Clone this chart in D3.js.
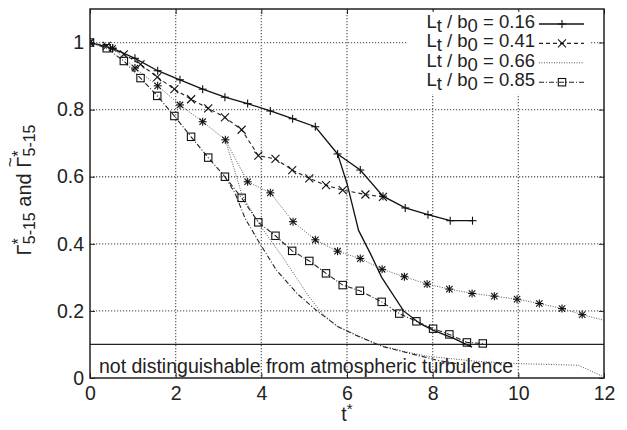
<!DOCTYPE html>
<html>
<head>
<meta charset="utf-8">
<script src="https://cdn.jsdelivr.net/npm/d3@7/dist/d3.min.js"></script>
<style>
  body { margin: 0; background: #fff; }
  text { font-family: "Liberation Sans", Arial, sans-serif; fill: #222; }
</style>
</head>
<body>
<div id="chart"></div>
<script>
'use strict';

// L_t / b_0 = 0.16 (plus, solid)
const tA = [0, 0.53, 1.05, 1.58, 2.1, 2.63, 3.15, 3.68, 4.21, 4.73, 5.26, 5.78, 6.31, 6.84, 7.36, 7.89, 8.41, 8.93];
const yA = [1.0, 0.983, 0.953, 0.916, 0.889, 0.861, 0.837, 0.818, 0.796, 0.773, 0.749, 0.668, 0.62, 0.542, 0.507, 0.487, 0.469, 0.469];
// L_t / b_0 = 0.41 (cross, dashed)
const tB = [0, 0.39, 0.79, 1.18, 1.57, 1.97, 2.36, 2.76, 3.15, 3.54, 3.93, 4.33, 4.72, 5.12, 5.51, 5.9, 6.43, 6.84];
const yB = [1.0, 0.99, 0.965, 0.935, 0.897, 0.861, 0.831, 0.804, 0.777, 0.74, 0.663, 0.653, 0.62, 0.595, 0.575, 0.56, 0.547, 0.54];
// L_t / b_0 = 0.66 (star, dotted)
const tC = [0, 0.53, 1.05, 1.58, 2.1, 2.63, 3.16, 3.68, 4.21, 4.74, 5.26, 5.78, 6.31, 6.82, 7.34, 7.87, 8.39, 8.92, 9.44, 9.97, 10.49, 11.02, 11.49, 12];
const yC = [1.0, 0.983, 0.924, 0.871, 0.814, 0.764, 0.71, 0.585, 0.552, 0.466, 0.412, 0.378, 0.356, 0.324, 0.302, 0.28, 0.265, 0.252, 0.244, 0.235, 0.222, 0.207, 0.189, 0.172];
// L_t / b_0 = 0.85 (square, dash-dot)
const tD = [0, 0.39, 0.79, 1.18, 1.57, 1.97, 2.36, 2.76, 3.15, 3.54, 3.93, 4.33, 4.72, 5.12, 5.51, 5.9, 6.3, 6.81, 7.22, 7.62, 8.01, 8.39, 8.8, 9.17];
const yD = [1.0, 0.983, 0.945, 0.894, 0.841, 0.781, 0.719, 0.657, 0.6, 0.537, 0.464, 0.424, 0.379, 0.349, 0.312, 0.277, 0.26, 0.227, 0.192, 0.169, 0.147, 0.13, 0.106, 0.103];

// tilde curves (no markers), drawn from where they leave the marked ones
const tAtil = [5.78, 6.0, 6.27, 6.55, 6.81, 7.32, 7.71, 8.02, 8.49, 8.92];
const yAtil = [0.668, 0.58, 0.44, 0.37, 0.3, 0.2, 0.162, 0.142, 0.118, 0.092];
const tCtil = [3.16, 3.55, 3.97, 4.5, 5.1, 5.4, 5.76, 6.2, 6.7, 7.3, 7.87, 8.4, 9.0, 9.97, 11.4, 12];
const yCtil = [0.71, 0.545, 0.455, 0.36, 0.245, 0.195, 0.155, 0.13, 0.1, 0.08, 0.065, 0.058, 0.05, 0.043, 0.038, 0.003];
const tDtil = [3.15, 3.39, 3.62, 3.97, 4.36, 4.85, 5.3, 5.8, 6.3, 6.85, 7.48, 8.1, 8.7];
const yDtil = [0.6, 0.55, 0.476, 0.4, 0.32, 0.25, 0.2, 0.152, 0.122, 0.093, 0.073, 0.053, 0.04];

const xTicks = [0, 2, 4, 6, 8, 10, 12];
const yTicks = [0, 0.2, 0.4, 0.6, 0.8, 1];
const threshold = 0.1;
const noteText = 'not distinguishable from atmospheric turbulence';

const W = 627, H = 430;
const margin = { top: 9, right: 23, bottom: 52, left: 90 };
const width = W - margin.left - margin.right;
const height = H - margin.top - margin.bottom;
const FONT = 19.5;

const svg = d3.select('#chart').append('svg')
  .attr('width', W).attr('height', H);

const g = svg.append('g')
  .attr('transform', `translate(${margin.left},${margin.top})`);

const x = d3.scaleLinear().domain([0, 12]).range([0, width]);
const y = d3.scaleLinear().domain([0, 1.1]).range([height, 0]);

g.append('clipPath').attr('id', 'clip')
  .append('rect').attr('width', width).attr('height', height);

// grid (gnuplot style dotted) as one path
const gridPath = d3.path();
xTicks.filter(d => d > 0 && d < 12).forEach(d => {
  gridPath.moveTo(x(d), 0);
  gridPath.lineTo(x(d), height);
});
yTicks.filter(d => d > 0).forEach(d => {
  gridPath.moveTo(0, y(d));
  gridPath.lineTo(width, y(d));
});
g.append('path')
  .attr('d', gridPath.toString())
  .attr('fill', 'none')
  .attr('stroke', '#666').attr('stroke-width', 1.3)
  .attr('stroke-dasharray', '1.2,1.8');

// axes
const xAxis = d3.axisBottom(x).tickValues(xTicks).tickSize(-5).tickPadding(8).tickFormat(d3.format('d'));
const yAxis = d3.axisLeft(y).tickValues(yTicks).tickSize(-5).tickPadding(6).tickFormat(d => d === 0 || d === 1 ? d : d.toFixed(1));
const xTop = d3.axisTop(x).tickValues(xTicks).tickSize(-5).tickFormat('');
const yRight = d3.axisRight(y).tickValues(yTicks).tickSize(-5).tickFormat('');

function styleAxis(sel) {
  sel.select('.domain').remove();
  sel.selectAll('.tick line').attr('stroke', '#222');
  sel.selectAll('.tick text').attr('font-size', FONT).attr('fill', '#222')
    .attr('font-family', '"Liberation Sans", Arial, sans-serif');
}
g.append('g').attr('transform', `translate(0,${height})`).call(xAxis).call(styleAxis);
g.append('g').call(yAxis).call(styleAxis);
g.append('g').call(xTop).call(styleAxis);
g.append('g').attr('transform', `translate(${width},0)`).call(yRight).call(styleAxis);

// threshold line
g.append('line')
  .attr('x1', 0).attr('x2', width)
  .attr('y1', y(threshold)).attr('y2', y(threshold))
  .attr('stroke', '#222').attr('stroke-width', 1.2);

const plot = g.append('g').attr('clip-path', 'url(#clip)');

const line = d3.line().x(d => x(d[0])).y(d => y(d[1]));
const zip = (a, b) => a.map((v, i) => [v, b[i]]);

const series = [
  { t: tA, v: yA, dash: null, color: '#111', w: 1.3, mark: 'plus', label: ['L', 't', ' / b', '0', ' = 0.16'] },
  { t: tB, v: yB, dash: '4,3', color: '#222', w: 1.1, mark: 'cross', label: ['L', 't', ' / b', '0', ' = 0.41'] },
  { t: tC, v: yC, dash: '1,1.5', color: '#555', w: 1, mark: 'star', label: ['Lt / b', '0', ' = 0.66'] },
  { t: tD, v: yD, dash: '5,2,1,2', color: '#222', w: 1.1, mark: 'square', label: ['L', 't', ' / b', '0', ' = 0.85'] }
];
const tildes = [
  { t: tAtil, v: yAtil, s: series[0] },
  { t: tCtil, v: yCtil, s: series[2] },
  { t: tDtil, v: yDtil, s: series[3] }
];

tildes.forEach(c => {
  plot.append('path')
    .datum(zip(c.t, c.v))
    .attr('fill', 'none')
    .attr('stroke', c.s.color)
    .attr('stroke-width', c.s.w)
    .attr('stroke-dasharray', c.s.dash)
    .attr('d', line);
});

function drawMarker(sel, kind, cx, cy, color) {
  const r = 4;
  const m = sel.append('g').attr('transform', `translate(${cx},${cy})`)
    .attr('stroke', color).attr('stroke-width', 1.1).attr('fill', 'none');
  if (kind === 'plus' || kind === 'star') {
    m.append('line').attr('x1', -r).attr('x2', r).attr('y1', 0).attr('y2', 0);
    m.append('line').attr('x1', 0).attr('x2', 0).attr('y1', -r).attr('y2', r);
  }
  if (kind === 'cross' || kind === 'star') {
    const k = kind === 'star' ? r * 0.8 : r;
    m.append('line').attr('x1', -k).attr('x2', k).attr('y1', -k).attr('y2', k);
    m.append('line').attr('x1', -k).attr('x2', k).attr('y1', k).attr('y2', -k);
  }
  if (kind === 'square') {
    m.append('rect').attr('x', -3.7).attr('y', -3.7).attr('width', 7.4).attr('height', 7.4);
  }
}

series.forEach(s => {
  plot.append('path')
    .datum(zip(s.t, s.v))
    .attr('fill', 'none')
    .attr('stroke', s.color)
    .attr('stroke-width', s.w)
    .attr('stroke-dasharray', s.dash)
    .attr('d', line);
  zip(s.t, s.v).filter(d => d[0] < 11.95).forEach(d => {
    drawMarker(plot, s.mark, x(d[0]), y(d[1]), '#111');
  });
});

g.append('text')
  .attr('x', 9).attr('y', y(0) - 5)
  .attr('font-size', FONT)
  .text(noteText);

// legend (opaque key)
const lg = g.append('g');
lg.append('rect')
  .attr('x', 318).attr('y', 3).attr('width', 183).attr('height', 82)
  .attr('fill', '#fff');
series.forEach((s, i) => {
  const ly = 15 + i * 19.4;
  const txt = lg.append('text')
    .attr('x', 445).attr('y', ly + 4)
    .attr('text-anchor', 'end')
    .attr('font-size', 18.5);
  let sub = false;
  s.label.forEach(part => {
    const isSub = (part === 't' || part === '0');
    const ts = txt.append('tspan').text(part);
    if (isSub && !sub) ts.attr('dy', 4);
    if (!isSub && sub) ts.attr('dy', -4);
    sub = isSub;
  });
  lg.append('line')
    .attr('x1', 449).attr('x2', 494).attr('y1', ly).attr('y2', ly)
    .attr('stroke', s.color).attr('stroke-width', s.w)
    .attr('stroke-dasharray', s.dash);
  if (s.mark !== 'star') drawMarker(lg, s.mark, 472, ly, '#111');
});

// border
g.append('rect')
  .attr('width', width).attr('height', height)
  .attr('fill', 'none').attr('stroke', '#222').attr('stroke-width', 1.5);

// axis titles
const xl = svg.append('text')
  .attr('x', margin.left + x(6)).attr('y', 421)
  .attr('text-anchor', 'middle').attr('font-size', FONT);
xl.append('tspan').text('t');
xl.append('tspan').attr('dy', -7).attr('font-size', 15).text('*');

const ylg = svg.append('g').attr('transform', 'translate(31,190) rotate(-90)');
const yl = ylg.append('text')
  .attr('text-anchor', 'middle').attr('font-size', 20);
yl.append('tspan').text('Γ');
yl.append('tspan').attr('dy', -7).attr('font-size', 16).text('*');
yl.append('tspan').attr('dy', 11).attr('dx', -6).attr('font-size', 16).text('5-15');
yl.append('tspan').attr('dy', -4).text(' and ');
// second Gamma carries a tilde
const gm2 = yl.append('tspan').text('Γ');
yl.append('tspan').attr('dy', -7).attr('font-size', 16).text('*');
yl.append('tspan').attr('dy', 11).attr('dx', -6).attr('font-size', 16).text('5-15');
const box = gm2.node().getExtentOfChar(0);
ylg.append('text')
  .attr('x', box.x + box.width / 2).attr('y', box.y + 3)
  .attr('text-anchor', 'middle').attr('font-size', 17)
  .text('~');
</script>
</body>
</html>
